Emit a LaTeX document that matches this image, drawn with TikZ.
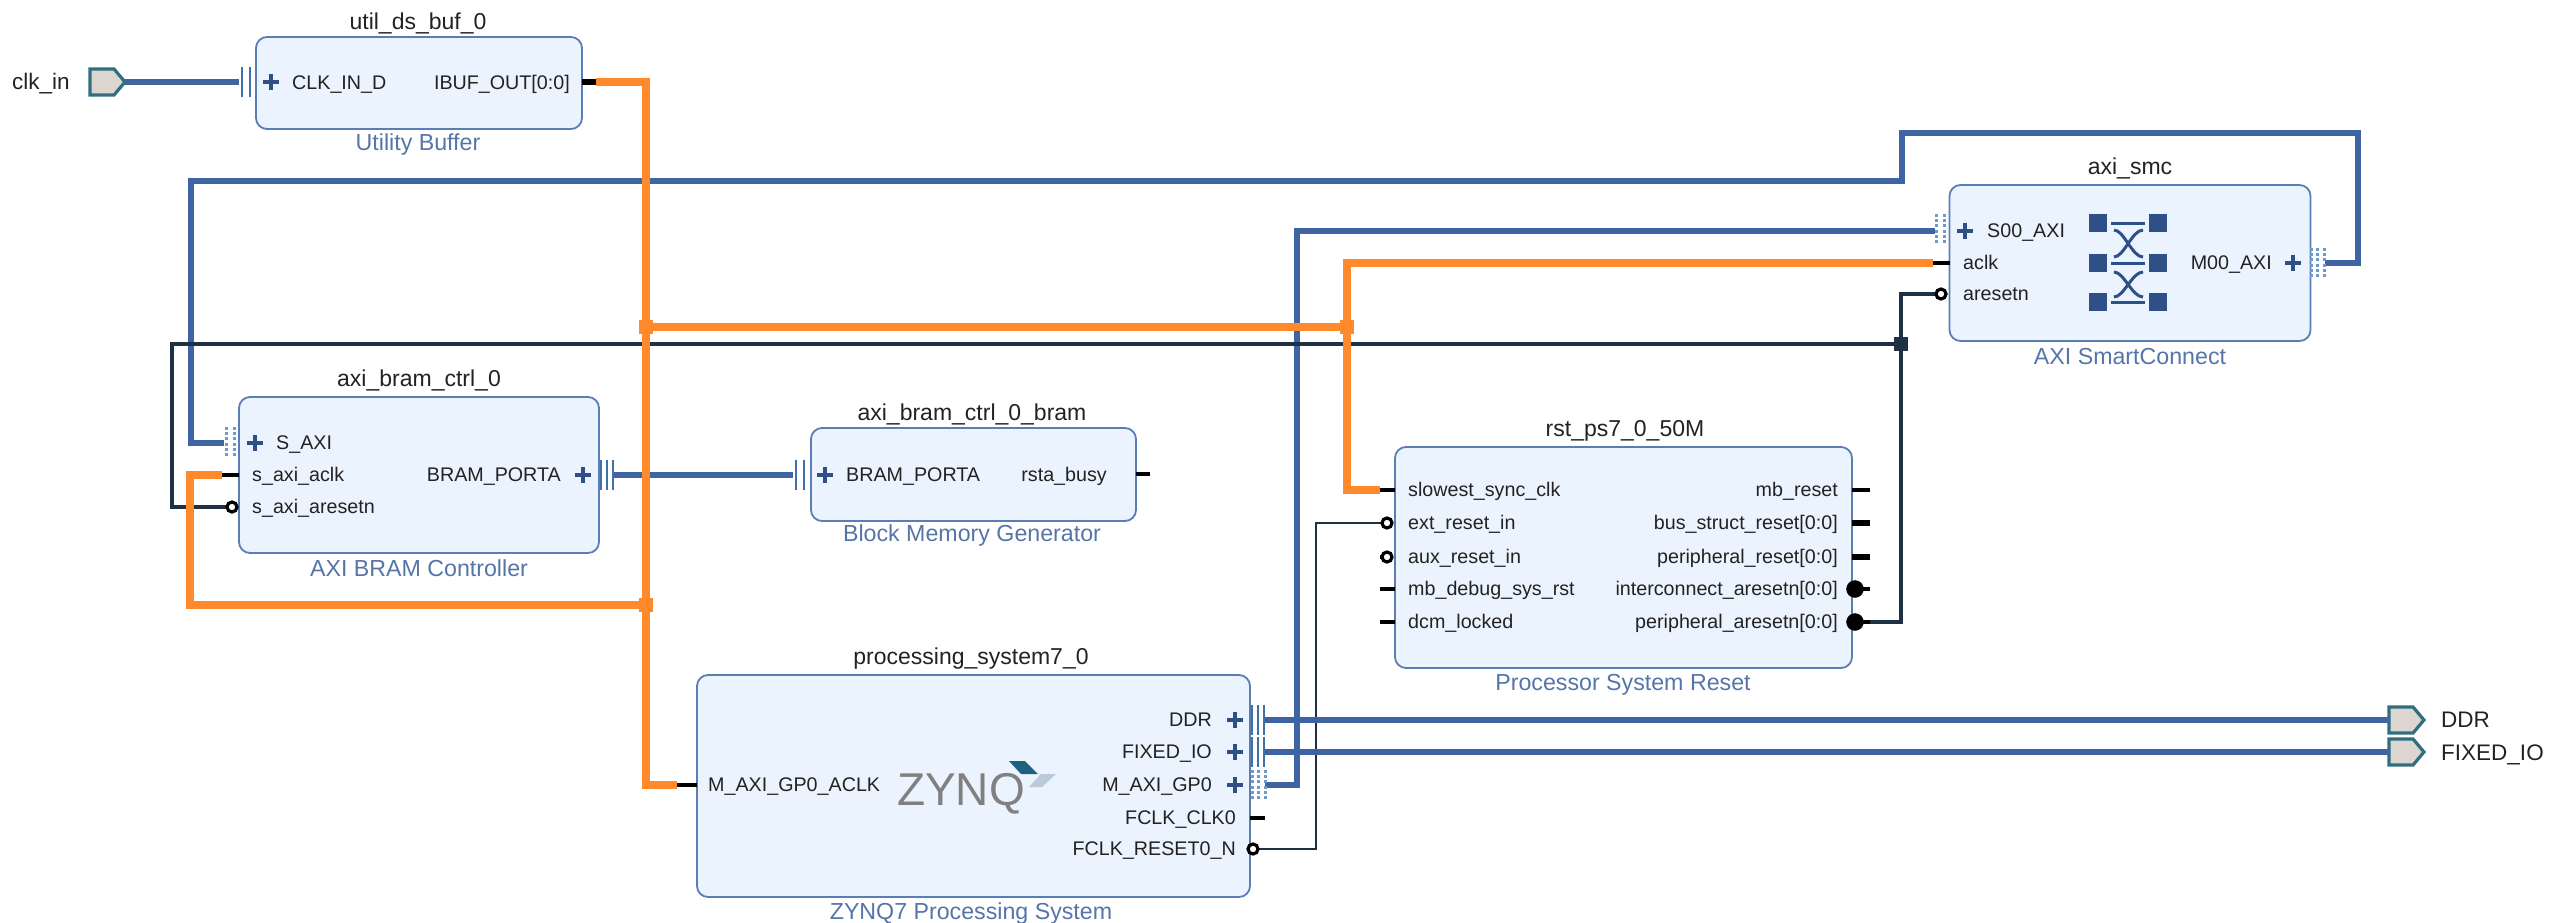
\documentclass[tikz,border=0pt]{standalone}
\usepackage{fontspec}
\setmainfont{Liberation Sans}
\usetikzlibrary{shapes.symbols}
\definecolor{wireblue}{HTML}{3F64A4}
\definecolor{wireorange}{HTML}{FF8A2B}
\definecolor{wiredark}{HTML}{1E3044}
\definecolor{blockfill}{HTML}{EBF4FE}
\definecolor{blockline}{HTML}{5B7DB5}
\definecolor{subtext}{HTML}{5575A8}
\definecolor{plusblue}{HTML}{2F5086}
\definecolor{busblue}{HTML}{3F70A8}
\definecolor{dotblue}{HTML}{6C9BCB}
\definecolor{portfill}{HTML}{DDD5D0}
\definecolor{portline}{HTML}{2F6F7F}
\definecolor{textdark}{HTML}{222222}
\definecolor{logodark}{HTML}{1F5F7F}
\definecolor{logolight}{HTML}{B9CBD8}
\tikzset{
  block/.style={draw=blockline,fill=blockfill,line width=1.8pt,rounded corners=11pt,inner sep=0pt,outer sep=0pt},
  title/.style={anchor=base,inner sep=0pt,text=textdark,font=\fontsize{23}{24}\selectfont},
  subtitle/.style={anchor=base,inner sep=0pt,text=subtext,font=\fontsize{23.2}{24}\selectfont},
  pinl/.style={anchor=base west,inner sep=0pt,text=textdark,font=\fontsize{19.7}{21}\selectfont},
  pinr/.style={anchor=base east,inner sep=0pt,text=textdark,font=\fontsize{19.7}{21}\selectfont},
  extlabel/.style={anchor=base west,inner sep=0pt,text=textdark,font=\fontsize{22.5}{24}\selectfont},
  extport/.style={shape=signal,signal to=east,signal pointer angle=100,draw=portline,fill=portfill,line width=3.2pt,inner sep=0pt,outer sep=0pt,minimum width=35pt,minimum height=26pt},
  bluewire/.style={draw=wireblue,line width=6pt,line join=miter},
  orangewire/.style={draw=wireorange,line width=7.5pt,line join=miter},
  darkwire/.style={draw=wiredark,line width=4.5pt,line join=miter},
  thinwire/.style={draw=wiredark,line width=2pt},
  stub/.style={draw=black,line width=3.5pt},
  fatstub/.style={draw=black,line width=6.5pt},
  invpin/.style={draw=black,fill=white,line width=3.2pt,circle,inner sep=0pt,outer sep=0pt,minimum size=10pt},
  fullpin/.style={draw=black,fill=black,circle,inner sep=0pt,outer sep=0pt,minimum size=17pt},
  junction/.style={draw=none,fill=#1,inner sep=0pt,outer sep=0pt,minimum size=14pt,shape=rectangle},
  plussign/.style={draw=plusblue,line width=3.4pt},
  busbar/.style={draw=busblue,line width=2.2pt},
  busdot/.style={draw=dotblue,line width=3pt,dash pattern=on 3pt off 2.2pt},
  xsquare/.style={fill=plusblue,draw=none,inner sep=0pt,minimum size=18.5pt,shape=rectangle},
  xbar/.style={draw=plusblue,line width=3pt},
}
\newcommand{\plusat}[2]{\draw[plussign] (#1-8,#2) -- (#1+8,#2) (#1,#2-8) -- (#1,#2+8);}
\newcommand{\bustwo}[2]{\draw[busbar] (#1,#2-15) -- (#1,#2+15) (#1+8,#2-15) -- (#1+8,#2+15);}
\newcommand{\busthree}[2]{\draw[busbar] (#1,#2-15) -- (#1,#2+15) (#1+6,#2-15) -- (#1+6,#2+15) (#1+12,#2-15) -- (#1+12,#2+15);}
\newcommand{\dottwo}[2]{\draw[busdot] (#1,#2-15) -- (#1,#2+15) (#1+8,#2-15) -- (#1+8,#2+15);}
\newcommand{\dotthree}[2]{\draw[busdot] (#1,#2-15) -- (#1,#2+15) (#1+6.5,#2-15) -- (#1+6.5,#2+15) (#1+13,#2-15) -- (#1+13,#2+15);}
\begin{document}
\begin{tikzpicture}[x=1pt,y=-1pt]
\useasboundingbox (0,0) rectangle (2552,922);
% blocks
\node[block,minimum width=326pt,minimum height=92pt] (util) at (419,83) {};
\node[block,minimum width=360pt,minimum height=156pt] (bram) at (419,475) {};
\node[block,minimum width=325pt,minimum height=93pt] (mem) at (973.5,474.5) {};
\node[block,minimum width=553pt,minimum height=222pt] (ps) at (973.5,786) {};
\node[block,minimum width=457pt,minimum height=221pt] (rst) at (1623.5,557.5) {};
\node[block,minimum width=361pt,minimum height=156pt] (smc) at (2130,263) {};
% titles
\node[title] (t1) at (418,29) {util\_ds\_buf\_0};
\node[subtitle] (s1) at (418,150) {Utility Buffer};
\node[title] (t2) at (419,386) {axi\_bram\_ctrl\_0};
\node[subtitle] (s2) at (419,576) {AXI BRAM Controller};
\node[title] (t3) at (972,420) {axi\_bram\_ctrl\_0\_bram};
\node[subtitle] (s3) at (972,541) {Block Memory Generator};
\node[title] (t4) at (971,664) {processing\_system7\_0};
\node[subtitle] (s4) at (971,919) {ZYNQ7 Processing System};
\node[title] (t5) at (1625,436) {rst\_ps7\_0\_50M};
\node[subtitle] (s5) at (1623,690) {Processor System Reset};
\node[title] (t6) at (2130,174) {axi\_smc};
\node[subtitle] (s6) at (2130,364) {AXI SmartConnect};
% external ports
\node[extport] (clkin) at (102,82) {};
\node[extport] (ddr) at (2401,720) {};
\node[extport] (fixedio) at (2401,752) {};
\node[extlabel] (lclk) at (12,89) {clk\_in};
\node[extlabel] (lddr) at (2441,727) {DDR};
\node[extlabel] (lfix) at (2441,760) {FIXED\_IO};
% pin labels
\node[pinl] (a1) at (292,89) {CLK\_IN\_D};
\node[pinr] (a2) at (570,89) {IBUF\_OUT[0:0]};
\node[pinl] (b1) at (276,449) {S\_AXI};
\node[pinl] (b2) at (252,481) {s\_axi\_aclk};
\node[pinl] (b3) at (252,513) {s\_axi\_aresetn};
\node[pinr] (b4) at (561,481) {BRAM\_PORTA};
\node[pinl] (c1) at (846,481) {BRAM\_PORTA};
\node[pinr] (c2) at (1107,481) {rsta\_busy};
\node[pinl] (d1) at (708,791) {M\_AXI\_GP0\_ACLK};
\node[pinr] (d2) at (1212,726) {DDR};
\node[pinr] (d3) at (1212,758) {FIXED\_IO};
\node[pinr] (d4) at (1212,791) {M\_AXI\_GP0};
\node[pinr] (d5) at (1236,824) {FCLK\_CLK0};
\node[pinr] (d6) at (1236,855) {FCLK\_RESET0\_N};
\node[pinl] (e1) at (1408,496) {slowest\_sync\_clk};
\node[pinl] (e2) at (1408,529) {ext\_reset\_in};
\node[pinl] (e3) at (1408,563) {aux\_reset\_in};
\node[pinl] (e4) at (1408,595) {mb\_debug\_sys\_rst};
\node[pinl] (e5) at (1408,628) {dcm\_locked};
\node[pinr] (e6) at (1838,496) {mb\_reset};
\node[pinr] (e7) at (1838,529) {bus\_struct\_reset[0:0]};
\node[pinr] (e8) at (1838,563) {peripheral\_reset[0:0]};
\node[pinr] (e9) at (1838,595) {interconnect\_aresetn[0:0]};
\node[pinr] (e10) at (1838,628) {peripheral\_aresetn[0:0]};
\node[pinl] (f1) at (1987,237) {S00\_AXI};
\node[pinl] (f2) at (1963,269) {aclk};
\node[pinl] (f3) at (1963,300) {aresetn};
\node[pinr] (f4) at (2272,269) {M00\_AXI};
% connection points
\coordinate (utilin) at (239,82);
\coordinate (utilout) at (596,82);
\coordinate (saxi) at (224,443);
\coordinate (saclk) at (222,475);
\coordinate (sreset) at (228,507);
\coordinate (brama) at (614,475);
\coordinate (bramb) at (793,475);
\coordinate (gp0clk) at (677,785);
\coordinate (psddr) at (1265,720);
\coordinate (psfix) at (1265,752);
\coordinate (psgp0) at (1265,785);
\coordinate (psrst) at (1258,849);
\coordinate (rstclk) at (1380,490);
\coordinate (rstext) at (1384,523);
\coordinate (rstper) at (1870,622);
\coordinate (smcs) at (1935,231);
\coordinate (smcclk) at (1933,263);
\coordinate (smcrst) at (1937,294);
\coordinate (smcm) at (2325,263);
\coordinate (jclktop) at (646,327);
\coordinate (jclkmid) at (1347,327);
\coordinate (jclklow) at (646,605);
\coordinate (jrst) at (1901,344);
\coordinate (bup) at (1902,181);
\coordinate (btop) at (1902,133);
\coordinate (bright) at (2358,133);
% wires: blue first, then dark, then orange
\draw[bluewire] (clkin.east) -- (utilin);
\draw[bluewire] (saxi) -| (191,181) -- (bup) -- (btop) -- (bright) |- (smcm);
\draw[bluewire] (brama) -- (bramb);
\draw[bluewire] (psgp0) -| (1297,231) -- (smcs);
\draw[thinwire] (psrst) -| (1316,523) -- (rstext);
\draw[bluewire] (psddr) -- (ddr.west);
\draw[bluewire] (psfix) -- (fixedio.west);
\draw[darkwire] (rstper) -| (jrst) |- (smcrst);
\draw[darkwire] (jrst) -- (172,344) |- (sreset);
\draw[orangewire] (utilout) -| (gp0clk -| jclktop) -- (gp0clk);
\draw[orangewire] (jclktop) -- (jclkmid);
\draw[orangewire] (smcclk) -| (1347,490) -- (rstclk);
\draw[orangewire] (jclklow) -- (190,605) |- (saclk);
% junctions
\node[junction=wireorange] (j1) at (jclktop) {};
\node[junction=wireorange] (j2) at (jclkmid) {};
\node[junction=wireorange] (j3) at (jclklow) {};
\node[junction=wiredark] (j4) at (jrst) {};
% pin stubs
\draw[fatstub] (util.east |- utilout) -- (utilout);
\draw[stub] (saclk) -- (saclk -| bram.west);
\draw[stub] (gp0clk) -- (gp0clk -| ps.west);
\draw[stub] (rstclk) -- (rstclk -| rst.west);
\draw[stub] (smcclk) -- (smcclk -| smc.west);
\draw[stub] (mem.east |- 0,474) -- (1150,474);
\draw[stub] (ps.east |- 0,818) -- (1265,818);
\draw[stub] (1380,589) -- (rst.west |- 0,589);
\draw[stub] (1380,622) -- (rst.west |- 0,622);
\draw[stub] (rst.east |- 0,490) -- (1870,490);
\draw[fatstub] (rst.east |- 0,523) -- (1870,523);
\draw[fatstub] (rst.east |- 0,557) -- (1870,557);
\draw[stub] (rst.east |- 0,589) -- (1870,589);
\draw[stub] (rst.east |- 0,622) -- (rstper);
\draw[stub] (1380,557) -- (1390,557);
\draw[stub] (1250,849) -- (psrst);
% inverted pins
\node[invpin] (i1) at (232,507) {};
\node[invpin] (i2) at (1387,523) {};
\node[invpin] (i3) at (1387,557) {};
\node[invpin] (i4) at (1253,849) {};
\node[invpin] (i5) at (1941,294) {};
\node[fullpin] (i6) at (1855,589) {};
\node[fullpin] (i7) at (1855,622) {};
% plus signs
\plusat{271}{82}
\plusat{255}{443}
\plusat{583}{475}
\plusat{825}{475}
\plusat{1235}{720}
\plusat{1235}{752}
\plusat{1235}{785}
\plusat{1965}{231}
\plusat{2293}{263}
% bus icons
\bustwo{242}{82}
\busthree{601}{475}
\bustwo{796}{475}
\busthree{1252}{720}
\busthree{1252}{752}
\dottwo{226}{442}
\dotthree{1252}{785}
\dottwo{1936}{229}
\dotthree{2311}{263}
% crossbar icon
\node[xsquare] (q1) at (2098,223) {};
\node[xsquare] (q2) at (2158,223) {};
\node[xsquare] (q3) at (2098,263) {};
\node[xsquare] (q4) at (2158,263) {};
\node[xsquare] (q5) at (2098,302) {};
\node[xsquare] (q6) at (2158,302) {};
\draw[xbar] (2111,223) -- (2145,223);
\draw[xbar] (2111,263) -- (2145,263);
\draw[xbar] (2111,302) -- (2145,302);
\draw[xbar] (2114,230) .. controls (2124,230) and (2132,257) .. (2143,257);
\draw[xbar] (2143,230) .. controls (2132,230) and (2124,257) .. (2114,257);
\draw[xbar] (2114,272) .. controls (2124,272) and (2132,297) .. (2143,297);
\draw[xbar] (2143,272) .. controls (2132,272) and (2124,297) .. (2114,297);
% ZYNQ logo
\node[anchor=base west,inner sep=0pt,text=black!50,font=\fontsize{46}{50}\selectfont] (zynq) at (897,805) {ZYNQ};
\fill[logodark] (1009,761) -- (1025,761) -- (1038,774) -- (1021,774) -- cycle;
\fill[logolight] (1041,774) -- (1056,774) -- (1042,787) -- (1029,787) -- cycle;
\end{tikzpicture}
\end{document}
